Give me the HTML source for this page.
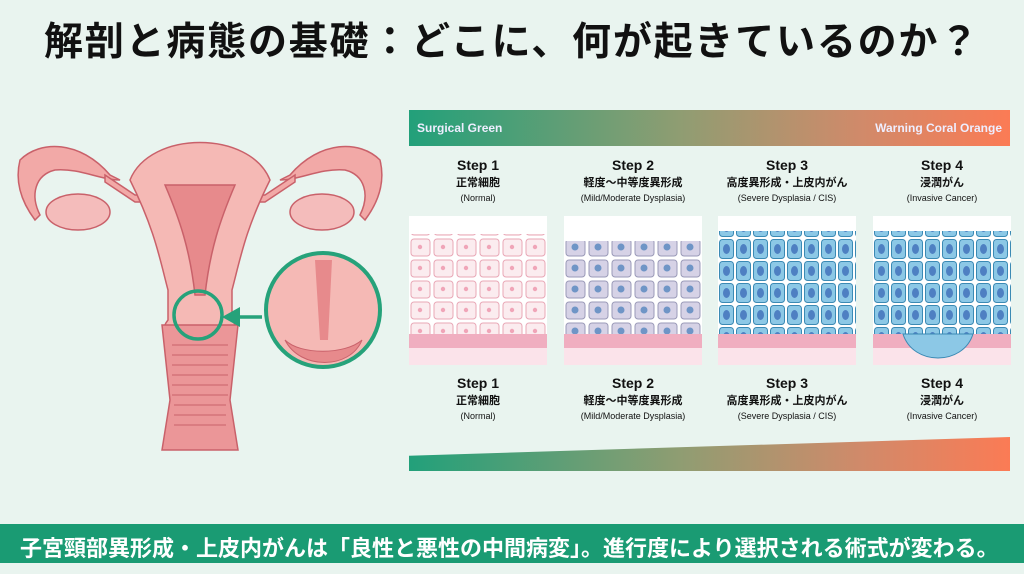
<!DOCTYPE html>
<html><head><meta charset="utf-8"><style>
body{margin:0;width:1024px;height:563px;overflow:hidden;background:#e9f4ef;font-family:"Liberation Sans","Noto Sans CJK JP",sans-serif;position:relative}
.t{position:absolute;left:0;width:1024px;top:11px;text-align:center;font-size:39px;font-weight:bold;color:#111;letter-spacing:1.8px}
.bar{position:absolute;left:409px;top:110px;width:601px;height:36px;background:linear-gradient(90deg,#22a07a,#8f9d72 45%,#d08a6a 75%,#fb7b55)}
.bar span{position:absolute;top:11px;font-size:12px;color:#eef;font-weight:bold}
.lab{position:absolute;width:160px;text-align:center;color:#111;font-weight:bold;line-height:1}
.lab b{display:block;font-size:14px}
.lab i{display:block;font-style:normal;font-size:11px;margin-top:6px}
.lab s{display:block;text-decoration:none;font-size:9px;margin-top:5px;font-weight:normal}
.img{position:absolute;top:216px;width:138px;height:149px}
.foot{position:absolute;left:0;top:524px;width:1024px;height:39px;background:#1a9b73;color:#fff;font-size:22px;font-weight:bold;line-height:50px;padding-left:20px;box-sizing:border-box;white-space:nowrap}
</style></head><body>
<div class="t">解剖と病態の基礎：どこに、何が起きているのか？</div>

<svg style="position:absolute;left:0;top:120px" width="400" height="340" viewBox="0 0 400 340">
<g stroke="#c9616a" stroke-width="1.5" fill="#f2a9a7">
<path d="M110 55 C80 20 40 20 20 40 C15 60 20 80 35 100 L40 95 C30 75 35 55 55 50 C80 48 100 60 120 60 Z"/>
<path d="M290 55 C320 20 360 20 380 40 C385 60 380 80 365 100 L360 95 C370 75 365 55 345 50 C320 48 300 60 280 60 Z"/>
<ellipse cx="78" cy="92" rx="32" ry="18" fill="#f4bcbb"/>
<ellipse cx="322" cy="92" rx="32" ry="18" fill="#f4bcbb"/>
<path d="M105 55 L135 75 L265 75 L295 55 L295 62 L265 82 L135 82 L105 62Z"/>
<path d="M130 60 C150 10 250 10 270 60 C245 110 240 140 232 170 L232 200 C240 210 236 220 232 220 L168 220 C164 220 160 210 168 200 L168 170 C160 140 155 110 130 60Z" fill="#f5b9b5"/>
<path d="M165 65 L235 65 C220 100 210 130 205 175 L195 175 C190 130 180 100 165 65Z" fill="#e78a8c"/>
<path d="M162 205 L238 205 L230 280 L238 330 L162 330 L170 280Z" fill="#eb9698"/>
<g stroke-width="1" fill="none"><path d="M172 225 H228 M172 235 H228 M172 245 H228 M172 255 H228 M172 265 H228 M172 275 H228 M174 285 H226 M174 295 H226 M174 305 H226"/></g>
</g>
<circle cx="198" cy="195" r="24" fill="none" stroke="#26a27a" stroke-width="3.5"/>
<path d="M262 197 L238 197" stroke="#26a27a" stroke-width="3.5"/>
<path d="M222 197 L240 187 L240 207Z" fill="#26a27a"/>
<circle cx="323" cy="190" r="57" fill="#f5b9b5" stroke="#26a27a" stroke-width="4"/>
<path d="M285 220 C300 250 350 250 362 220 C345 235 300 235 285 220Z" fill="#e78a8c" stroke="#c9616a"/>
<path d="M315 140 L332 140 L328 220 L320 220Z" fill="#e78a8c"/>
</svg>

<div class="bar"><span style="left:8px">Surgical Green</span><span style="right:8px">Warning Coral Orange</span></div>

<svg width="0" height="0" style="position:absolute"><defs>
<pattern id="p1" width="23" height="21" patternUnits="userSpaceOnUse"><rect x="2" y="2" width="19" height="17" rx="3" fill="#fbecef" stroke="#e8a7b6"/><circle cx="11" cy="10" r="2.2" fill="#f0a5b8"/></pattern>
<pattern id="p2" width="23" height="21" patternUnits="userSpaceOnUse"><rect x="2" y="2" width="19" height="17" rx="3" fill="#d6d2e6" stroke="#9a9ab8"/><circle cx="11" cy="10" r="3.5" fill="#6f95c6"/></pattern>
<pattern id="p3" width="17" height="22" patternUnits="userSpaceOnUse"><rect x="1.5" y="1.5" width="14" height="19" rx="3" fill="#8cc8e6" stroke="#3b8ab4"/><ellipse cx="8.5" cy="11" rx="3.5" ry="5" fill="#4e80c2"/></pattern>
</defs></svg>

<div class="img" style="left:409px"><svg width="138" height="149"><rect width="138" height="149" fill="#fff"/><rect y="18" width="138" height="100" fill="url(#p1)"/><rect y="118" width="138" height="14" fill="#f0aec0"/><rect y="132" width="138" height="17" fill="#fbe3ea"/></svg></div>
<div class="img" style="left:564px"><svg width="138" height="149"><rect width="138" height="149" fill="#fff"/><rect y="25" width="138" height="93" fill="url(#p2)"/><rect y="118" width="138" height="14" fill="#f0aec0"/><rect y="132" width="138" height="17" fill="#fbe3ea"/></svg></div>
<div class="img" style="left:718px"><svg width="138" height="149"><rect width="138" height="149" fill="#fff"/><rect y="15" width="138" height="103" fill="url(#p3)"/><rect y="118" width="138" height="14" fill="#f0aec0"/><rect y="132" width="138" height="17" fill="#fbe3ea"/></svg></div>
<div class="img" style="left:873px"><svg width="138" height="149"><rect width="138" height="149" fill="#fff"/><rect y="15" width="138" height="103" fill="url(#p3)"/><rect y="118" width="138" height="14" fill="#f0aec0"/><rect y="132" width="138" height="17" fill="#fbe3ea"/><path d="M30 118 C40 150 90 150 100 118Z" fill="#8cc8e6" stroke="#3b8ab4"/></svg></div>

<div class="lab" style="left:398px;top:158px"><b>Step 1</b><i>正常細胞</i><s>(Normal)</s></div>
<div class="lab" style="left:553px;top:158px"><b>Step 2</b><i>軽度〜中等度異形成</i><s>(Mild/Moderate Dysplasia)</s></div>
<div class="lab" style="left:707px;top:158px"><b>Step 3</b><i>高度異形成・上皮内がん</i><s>(Severe Dysplasia / CIS)</s></div>
<div class="lab" style="left:862px;top:158px"><b>Step 4</b><i>浸潤がん</i><s>(Invasive Cancer)</s></div>
<div class="lab" style="left:398px;top:376px"><b>Step 1</b><i>正常細胞</i><s>(Normal)</s></div>
<div class="lab" style="left:553px;top:376px"><b>Step 2</b><i>軽度〜中等度異形成</i><s>(Mild/Moderate Dysplasia)</s></div>
<div class="lab" style="left:707px;top:376px"><b>Step 3</b><i>高度異形成・上皮内がん</i><s>(Severe Dysplasia / CIS)</s></div>
<div class="lab" style="left:862px;top:376px"><b>Step 4</b><i>浸潤がん</i><s>(Invasive Cancer)</s></div>

<div style="position:absolute;left:409px;top:437px;width:601px;height:34px;background:linear-gradient(90deg,#22a07a,#8f9d72 45%,#d08a6a 75%,#fb7b55);clip-path:polygon(0 55%,100% 0,100% 100%,0 100%)"></div>

<div class="foot">子宮頸部異形成・上皮内がんは「良性と悪性の中間病変」。進行度により選択される術式が変わる。</div>
</body></html>
